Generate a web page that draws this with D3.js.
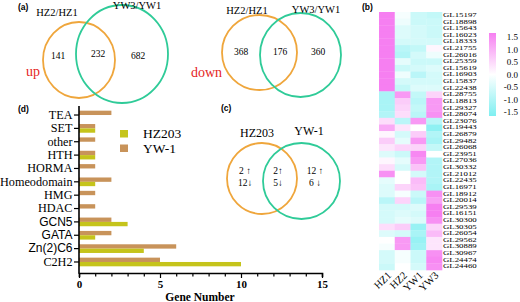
<!DOCTYPE html>
<html>
<head>
<meta charset="utf-8">
<script src="https://cdn.jsdelivr.net/npm/d3@7"></script>
<style>
  body { margin: 0; background: #fff; }
  svg { display: block; }
</style>
</head>
<body>
<div id="chart"></div>
<script>
// ---- data ----
const upCounts = [141, 232, 682];          // HZ2/HZ1 only, both, YW3/YW1 only
const downCounts = [368, 176, 360];
const vennSetNames = ["HZ2/HZ1", "YW3/YW1"];

const tfStrains = ["HZ203", "YW-1"];
const tfUp = [2, 2, 12];
const tfDown = [12, 5, 6];

const tfFamilies = ["TEA", "SET", "other", "HTH", "HORMA", "Homeodomain", "HMG", "HDAC", "GCN5", "GATA", "Zn(2)C6", "C2H2"];
const hz203Counts = [0, 1, 0, 1, 0, 1, 0, 0, 3, 1, 4, 10];
const yw1Counts = [2, 1, 1, 1, 1, 2, 1, 1, 2, 2, 6, 5];
const sansFamilies = ["GCN5", "GATA", "Zn(2)C6"];

const samples = ["HZ1", "HZ2", "YW1", "YW3"];
const genes = ["GL15197", "GL18898", "GL15643", "GL16023", "GL18333", "GL21755", "GL26016", "GL25359",
  "GL15619", "GL16903", "GL15837", "GL22438", "GL28755", "GL18813", "GL29327", "GL28074", "GL23076",
  "GL19443", "GL26879", "GL29482", "GL26068", "GL23951", "GL27036", "GL30332", "GL21012", "GL22435",
  "GL16971", "GL18912", "GL20014", "GL29539", "GL16151", "GL30300", "GL30305", "GL26054", "GL29562",
  "GL30889", "GL30967", "GL24474", "GL24460"];
const hz1 = [1.5, 1.5, 1.5, 1.5, 1.5, 1.5, 1.5, 1.5, 1.5, 1.5, 1.5, 1.5, -1.0, -1.0, -1.0, -0.9, 0.4,
  1.0, 0.1, 0.6, 0.3, -0.4, 0.1, 0.4, 1.3, -0.3, -0.4, -0.4, -0.8, -0.5, -0.5, -0.5, 0.4, -0.4, 0.0,
  -0.1, -0.5, -0.5, -0.6];
const hz2 = [-0.1, -0.2, -0.4, -0.4, -0.5, -0.8, -0.9, -0.3, -0.6, -0.2, -0.5, -0.7, 1.2, 0.6, 0.5, 0.4, -0.8,
  0.3, -0.5, -0.3, 0.5, -0.6, -0.3, -0.5, 0.0, 0.0, 0.5, -0.1, 0.5, -0.5, -0.4, -0.3, 0.6, -0.5, 1.2,
  1.2, -0.1, -0.1, 0.0];
const yw1 = [-0.6, -0.6, -0.5, -0.5, -0.5, -0.7, -0.5, -0.6, -0.5, -0.8, -0.5, -0.4, -0.7, -0.8, -0.7, -0.8, 1.2,
  0.0, 0.6, 1.2, 0.5, 1.4, 1.2, 0.7, -0.5, 0.8, 0.7, -0.6, -0.8, -0.4, -0.5, -0.4, -1.2, -1.0, -1.2,
  -1.1, -0.6, -0.6, -0.5];
const yw3 = [-0.7, -0.6, -0.6, -0.6, -0.5, 0.1, -0.2, -0.6, -0.4, -0.5, -0.5, -0.4, 0.5, 1.2, 1.2, 1.3, -0.8,
  -1.3, -0.9, -1.0, -0.7, 0.0, -0.9, -0.9, -0.9, -0.9, -1.0, 1.3, 1.1, 1.5, 1.5, 1.3, 0.5, 0.8, 0.3,
  0.3, 1.3, 1.4, 1.3];
const legendTicks = [1.5, 1.0, 0.5, 0.0, -0.5, -1.0, -1.5];

// ---- setup ----
const width = 520, height = 302;
const serif = "'Liberation Serif', 'Times New Roman', serif";
const sans = "'Liberation Sans', Arial, sans-serif";
const orange = "#efa63c", green = "#2fcb98";
const red = "#e5241d";

const svg = d3.select("#chart").append("svg")
  .attr("width", width)
  .attr("height", height);

// panel letters
const panelLabels = [["(a)", 18, 10], ["(b)", 362, 10], ["(c)", 221, 111], ["(d)", 18, 112]];
svg.selectAll(".plabel").data(panelLabels).join("text")
  .attr("x", d => d[1]).attr("y", d => d[2])
  .attr("font-family", sans).attr("font-weight", "bold").attr("font-size", 8.5)
  .text(d => d[0]);

// ---- venn diagrams ----
function venn(g, left, right, counts, labels, opts) {
  g.append("ellipse").attr("cx", left.cx).attr("cy", left.cy).attr("rx", left.rx).attr("ry", left.ry)
    .attr("fill", "none").attr("stroke", orange).attr("stroke-width", 1.8);
  g.append("ellipse").attr("cx", right.cx).attr("cy", right.cy).attr("rx", right.rx).attr("ry", right.ry)
    .attr("fill", "none").attr("stroke", green).attr("stroke-width", 1.8);
  g.selectAll(".setname").data(labels).join("text")
    .attr("x", (d, i) => opts.labelX[i]).attr("y", (d, i) => opts.labelY[i])
    .attr("text-anchor", "middle").attr("font-family", serif).attr("font-size", opts.labelSize)
    .text(d => d);
  if (counts) {
    g.selectAll(".count").data(counts).join("text")
      .attr("x", (d, i) => opts.countX[i]).attr("y", (d, i) => opts.countY[i])
      .attr("text-anchor", "middle").attr("dominant-baseline", "middle")
      .attr("font-family", serif).attr("font-size", 9.5)
      .text(d => d);
  }
}

venn(svg.append("g"),
  { cx: 79, cy: 60, rx: 36, ry: 38 }, { cx: 122, cy: 54, rx: 46, ry: 49 },
  upCounts, vennSetNames,
  { labelX: [57, 137], labelY: [16, 9], labelSize: 10.5, countX: [58, 98, 138], countY: [57, 55, 57] });
svg.append("text").attr("x", 33).attr("y", 76).attr("text-anchor", "middle")
  .attr("font-family", serif).attr("font-size", 14).attr("fill", red).text("up");

venn(svg.append("g"),
  { cx: 259.5, cy: 52.5, rx: 37.5, ry: 37.5 }, { cx: 300.5, cy: 55, rx: 40.5, ry: 42 },
  downCounts, vennSetNames,
  { labelX: [247, 316], labelY: [14, 13], labelSize: 10.5, countX: [241, 280, 318], countY: [53, 53, 53] });
svg.append("text").attr("x", 222).attr("y", 77).attr("text-anchor", "end")
  .attr("font-family", serif).attr("font-size", 14).attr("fill", red).text("down");

const gc = svg.append("g");
venn(gc,
  { cx: 262, cy: 178.5, rx: 35, ry: 35.5 }, { cx: 301.5, cy: 181, rx: 38.5, ry: 38 },
  null, tfStrains,
  { labelX: [257, 309], labelY: [137, 135], labelSize: 12 });
const arrowX = [245, 278, 315];
gc.selectAll(".tup").data(tfUp).join("text")
  .attr("x", (d, i) => arrowX[i]).attr("y", 172)
  .attr("text-anchor", "middle").attr("dominant-baseline", "middle")
  .attr("font-family", serif).attr("font-size", 9.5)
  .text((d, i) => d + (i === 1 ? "\u2191" : " \u2191"));
gc.selectAll(".tdown").data(tfDown).join("text")
  .attr("x", (d, i) => arrowX[i]).attr("y", 184)
  .attr("text-anchor", "middle").attr("dominant-baseline", "middle")
  .attr("font-family", serif).attr("font-size", 9.5)
  .text((d, i) => d + (i === 2 ? " \u2193" : "\u2193"));

// ---- bar chart (d) ----
const x = d3.scaleLinear([0, 15], [79, 322]);
const y = d3.scaleBand(tfFamilies, [106, 271]).padding(0.35);
const sub = d3.scaleBand(["YW-1", "HZ203"], [0, y.bandwidth()]);
const barColor = d3.scaleOrdinal(["HZ203", "YW-1"], ["#c5c41b", "#c8935a"]);

const barRows = tfFamilies.map((f, i) => ({ family: f, "HZ203": hz203Counts[i], "YW-1": yw1Counts[i] }));

const gb = svg.append("g");
gb.selectAll("g.row").data(barRows).join("g")
  .attr("class", "row")
  .attr("transform", d => `translate(0,${y(d.family)})`)
  .selectAll("rect")
  .data(d => ["YW-1", "HZ203"].map(k => ({ key: k, value: d[k] })))
  .join("rect")
  .attr("x", x(0))
  .attr("y", d => sub(d.key))
  .attr("width", d => x(d.value) - x(0))
  .attr("height", sub.bandwidth())
  .attr("fill", d => barColor(d.key));

// x axis
const xAxis = gb.append("g")
  .attr("transform", "translate(0,273)")
  .call(d3.axisBottom(x).tickValues(d3.range(0, 16)).tickSizeOuter(0)
    .tickSize(4).tickFormat(d => d % 5 === 0 ? d : ""));
xAxis.select(".domain").attr("stroke-width", 1.6);
xAxis.selectAll(".tick line").attr("stroke-width", 1.2)
  .attr("y2", d => d % 5 === 0 ? 5 : 3.5);
xAxis.selectAll(".tick text").attr("font-family", serif).attr("font-weight", "bold")
  .attr("font-size", 11).attr("dy", "0.55em").attr("y", 9);

gb.append("text").attr("x", 200).attr("y", 301).attr("text-anchor", "middle")
  .attr("font-family", serif).attr("font-weight", "bold").attr("font-size", 11.5)
  .text("Gene Number");

// y axis
const yAxis = gb.append("g")
  .attr("transform", `translate(${x(0)},0)`)
  .call(d3.axisLeft(y).tickSize(5).tickSizeOuter(0));
yAxis.select(".domain").remove();
yAxis.selectAll(".tick line").attr("stroke-width", 1.2);
yAxis.selectAll(".tick text")
  .attr("font-family", d => sansFamilies.includes(d) ? sans : serif)
  .attr("font-size", d => sansFamilies.includes(d) ? 12 : 12.2)
  .attr("x", -6.5);
gb.append("line").attr("x1", x(0)).attr("x2", x(0)).attr("y1", 106).attr("y2", 273.8)
  .attr("stroke", "#000").attr("stroke-width", 1.6);

// legend (d)
const gl = gb.append("g");
gl.selectAll("rect").data(tfStrains).join("rect")
  .attr("x", 120).attr("y", (d, i) => 130 + i * 14.5)
  .attr("width", 8).attr("height", 7.5)
  .attr("fill", d => barColor(d));
gl.selectAll("text").data(tfStrains).join("text")
  .attr("x", 143).attr("y", (d, i) => 138 + i * 14.5)
  .attr("font-family", serif).attr("font-size", 13.5)
  .text(d => d);

// ---- heatmap (b) ----
const hx = d3.scaleBand(samples, [379, 442]);
const hy = d3.scaleBand(genes, [12, 270]);
const heat = d3.scaleLinear([-1.5, 0, 1.5], ["#7eeff1", "#ffffff", "#f67ff1"]).clamp(true);
const columns = [hz1, hz2, yw1, yw3];
const cells = [];
genes.forEach((g, i) => samples.forEach((s, j) => cells.push({ gene: g, sample: s, value: columns[j][i] })));

const gh = svg.append("g");
gh.selectAll("rect").data(cells).join("rect")
  .attr("x", d => hx(d.sample))
  .attr("y", d => hy(d.gene))
  .attr("width", hx.bandwidth() + 0.3)
  .attr("height", hy.bandwidth() + 0.3)
  .attr("fill", d => heat(d.value));

// gene names are vertically squeezed in the original
gh.selectAll(".gene").data(genes).join("text")
  .attr("transform", d => `translate(443,${hy(d) + hy.bandwidth() / 2}) scale(1,0.8)`)
  .attr("dominant-baseline", "middle")
  .attr("font-family", serif).attr("font-size", 8.8)
  .text(d => d);

gh.selectAll(".sample").data(samples).join("text")
  .attr("transform", d => `translate(${hx(d) + hx.bandwidth() / 2 + 5},276) rotate(-45)`)
  .attr("text-anchor", "end")
  .attr("font-family", serif).attr("font-size", 10.5)
  .text(d => d);

// colour legend
const defs = svg.append("defs");
const grad = defs.append("linearGradient").attr("id", "heatgrad")
  .attr("x1", 0).attr("x2", 0).attr("y1", 0).attr("y2", 1);
grad.selectAll("stop").data([1.5, 0, -1.5]).join("stop")
  .attr("offset", (d, i) => i / 2)
  .attr("stop-color", d => heat(d));
const ly = d3.scaleLinear([1.5, -1.5], [38, 113]);
svg.append("rect").attr("x", 489).attr("y", 33).attr("width", 7).attr("height", 83)
  .attr("fill", "url(#heatgrad)");
svg.selectAll(".lt").data(legendTicks).join("text")
  .attr("x", 518).attr("y", d => ly(d))
  .attr("text-anchor", "end").attr("dominant-baseline", "middle")
  .attr("font-family", serif).attr("font-size", 9)
  .text(d => d.toFixed(1));
</script>
</body>
</html>
